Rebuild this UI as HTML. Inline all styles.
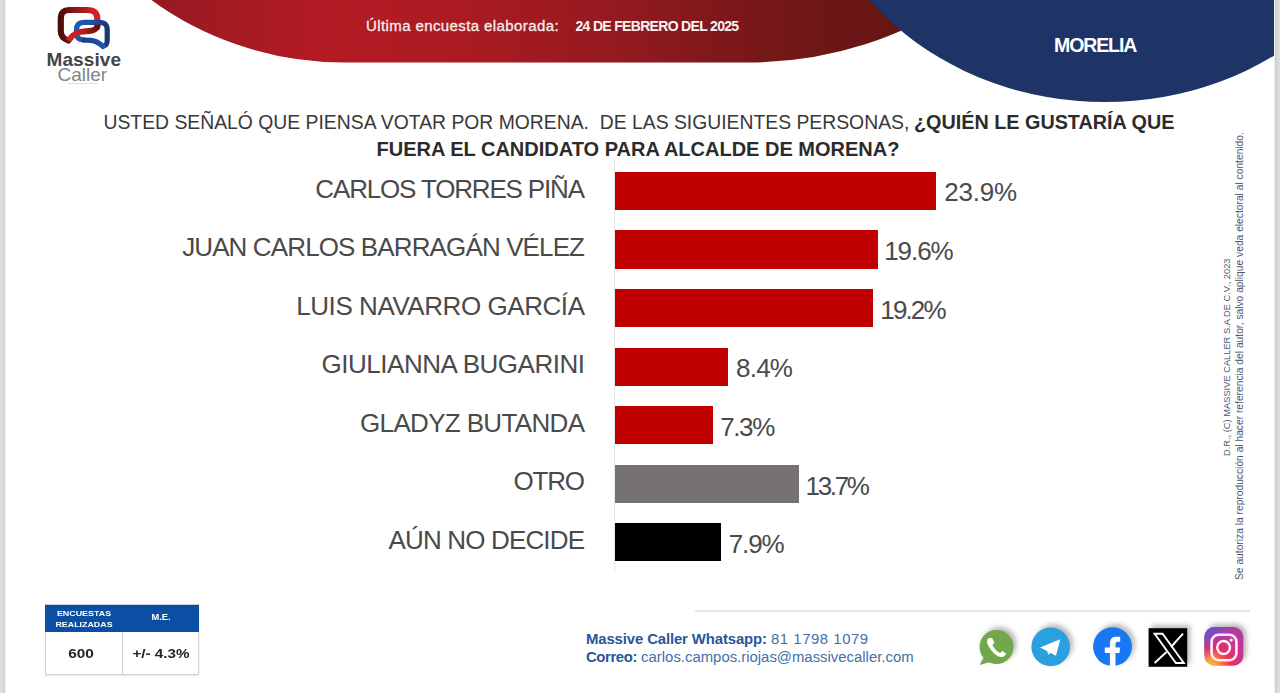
<!DOCTYPE html>
<html><head><meta charset="utf-8">
<style>
html,body{margin:0;padding:0;}
body{width:1280px;height:693px;overflow:hidden;background:#fff;position:relative;font-family:"Liberation Sans",sans-serif;}
.a{position:absolute;white-space:nowrap;}
.lab{position:absolute;right:695px;font-size:26px;color:#4a4a4a;line-height:30px;white-space:nowrap;}
.bar{position:absolute;left:615px;height:38.2px;background:#c00000;}
.pct{position:absolute;font-size:26px;color:#4a4a4a;line-height:30px;white-space:nowrap;}
.ic{position:absolute;filter:drop-shadow(3px -3px 2.5px rgba(0,0,0,0.28));}
</style></head>
<body>
<!-- side strips -->
<div class="a" style="left:0;top:0;width:7px;height:693px;background:linear-gradient(90deg,#dedede 0,#dadada 3px,#cfcfcf 4.5px,#f3f3f3 5.5px,#fff 7px);"></div>
<div class="a" style="left:1273px;top:0;width:7px;height:693px;background:linear-gradient(90deg,#fff 0,#f3f3f3 1.5px,#cdcdcd 2.5px,#dadada 4px,#dedede 7px);"></div>

<!-- header shapes -->
<svg class="a" style="left:0;top:0" width="1280" height="120" viewBox="0 0 1280 120">
 <defs>
  <linearGradient id="rg" x1="150" y1="0" x2="930" y2="0" gradientUnits="userSpaceOnUse">
   <stop offset="0" stop-color="#961a21"/>
   <stop offset="0.23" stop-color="#b41b24"/>
   <stop offset="0.38" stop-color="#ad1b22"/>
   <stop offset="0.58" stop-color="#961a20"/>
   <stop offset="0.81" stop-color="#731717"/>
   <stop offset="1" stop-color="#621515"/>
  </linearGradient>
  <clipPath id="cp"><rect x="0" y="0" width="1274" height="120"/></clipPath>
 </defs>
 <path fill="url(#rg)" d="M140.9 -8 A314.1 293.8 0 0 0 345 62.5 L748.2 62.5 A337.9 293.8 0 0 0 967.8 -8 Z"/>
 <g clip-path="url(#cp)"><ellipse cx="1105" cy="-161.8" rx="298.3" ry="263.9" fill="#1f3466"/></g>
</svg>

<!-- logo -->
<svg class="a" style="left:40px;top:0" width="90" height="95" viewBox="40 0 90 95">
 <defs>
  <linearGradient id="lr" x1="60" y1="0" x2="100" y2="0" gradientUnits="userSpaceOnUse">
   <stop offset="0" stop-color="#4a0d0d"/><stop offset="0.4" stop-color="#8c1619"/><stop offset="0.75" stop-color="#c81e26"/><stop offset="1" stop-color="#d62229"/>
  </linearGradient>
  <linearGradient id="lr2" x1="68" y1="0" x2="97" y2="0" gradientUnits="userSpaceOnUse">
   <stop offset="0" stop-color="#d82229"/><stop offset="0.45" stop-color="#c01c24"/><stop offset="1" stop-color="#6a1212"/>
  </linearGradient>
  <linearGradient id="lb" x1="75" y1="0" x2="110" y2="0" gradientUnits="userSpaceOnUse">
   <stop offset="0" stop-color="#1a5cb8"/><stop offset="0.55" stop-color="#1f4d99"/><stop offset="1" stop-color="#1b3270"/>
  </linearGradient>
  <linearGradient id="lb2" x1="78" y1="0" x2="106" y2="0" gradientUnits="userSpaceOnUse">
   <stop offset="0" stop-color="#1c3a7c"/><stop offset="0.6" stop-color="#1a4a98"/><stop offset="1" stop-color="#1a5cb8"/>
  </linearGradient>
 </defs>
 <path d="M68.5 40.5 C63 38.5 60.8 36 60.8 31 L60.8 19 C60.8 12.5 63.5 10 70 10 L87 10 C94 10 97.3 12.5 97.3 19 L97.3 27" fill="none" stroke="url(#lr)" stroke-width="6.2" stroke-linecap="round"/>
 <path d="M103 46 C107 45.5 107.2 43 107.2 40 L107.2 30 C107.2 25 105 22.3 99 22.3 L84 22.3 C79 22.3 76.5 25 76.5 30 L76.5 33 C76.5 37.5 79 40 84 40" fill="none" stroke="url(#lb)" stroke-width="5.2" stroke-linecap="round"/>
 <path d="M84 40 L91 40.3 C96 40.8 99.5 43 103 46.5" fill="none" stroke="url(#lb2)" stroke-width="5.2" stroke-linecap="round"/>
 <path d="M97.4 24.8 C97.4 29.5 94 31 86 31.2 C78 31.4 73 33.5 68.5 40.5" fill="none" stroke="url(#lr2)" stroke-width="6" stroke-linecap="butt"/>
</svg>
<div class="a" style="left:46.5px;top:48.5px;font-size:19px;font-weight:bold;color:#444;line-height:22px;letter-spacing:0.1px;">Massive</div>
<div class="a" style="left:57.5px;top:63.5px;font-size:19px;color:#858585;line-height:22px;">Caller</div>
<div class="a" style="left:68px;top:83px;width:30px;height:1px;background:#dcdcdc;"></div>

<!-- header text -->
<div class="a" style="left:366px;top:16.5px;font-size:15px;letter-spacing:0.4px;color:#f6eeee;-webkit-text-stroke:0.3px #f6eeee;line-height:18px;">Última encuesta elaborada:</div>
<div class="a" style="left:575.5px;top:16.5px;font-size:14px;letter-spacing:-0.68px;color:#fbf3f3;line-height:18px;font-weight:bold;">24 DE FEBRERO DEL 2025</div>
<div class="a" style="left:1054px;top:35px;font-size:19.5px;letter-spacing:-1.1px;color:#ffffff;line-height:20px;font-weight:bold;">MORELIA</div>

<!-- title -->
<div class="a" style="left:103.5px;top:110.3px;font-size:19.35px;color:#383838;line-height:24px;">USTED SEÑALÓ QUE PIENSA VOTAR POR MORENA.&nbsp; DE LAS SIGUIENTES PERSONAS,</div>
<div class="a" style="left:914px;top:110.3px;font-size:19.8px;color:#2b2b2b;line-height:24px;font-weight:bold;">¿QUIÉN LE GUSTARÍA QUE</div>
<div class="a" style="left:376.5px;top:136.8px;font-size:20px;color:#2b2b2b;line-height:24px;font-weight:bold;">FUERA EL CANDIDATO PARA ALCALDE DE MORENA?</div>

<!-- chart -->
<div class="a" style="left:614px;top:160px;width:1px;height:412px;background:#e6e6e6;"></div>

<div class="lab" style="top:173.6px;letter-spacing:-1.165px;margin-right:1.165px">CARLOS TORRES PIÑA</div>
<div class="lab" style="top:232.1px;letter-spacing:-0.876px;margin-right:0.876px">JUAN CARLOS BARRAGÁN VÉLEZ</div>
<div class="lab" style="top:290.7px;letter-spacing:-0.44px;margin-right:0.44px">LUIS NAVARRO GARCÍA</div>
<div class="lab" style="top:349.2px;letter-spacing:-0.48px;margin-right:0.48px">GIULIANNA BUGARINI</div>
<div class="lab" style="top:407.7px;letter-spacing:-0.66px;margin-right:0.66px">GLADYZ BUTANDA</div>
<div class="lab" style="top:466.3px;letter-spacing:-1.17px;margin-right:1.17px">OTRO</div>
<div class="lab" style="top:524.8px;letter-spacing:-0.84px;margin-right:0.84px">AÚN NO DECIDE</div>

<div class="bar" style="top:171.9px;width:321px"></div>
<div class="bar" style="top:230.4px;width:263px"></div>
<div class="bar" style="top:289.0px;width:258px"></div>
<div class="bar" style="top:347.5px;width:113px"></div>
<div class="bar" style="top:406.0px;width:98px"></div>
<div class="bar" style="top:464.6px;width:184px;background:#767171"></div>
<div class="bar" style="top:523.1px;width:106px;background:#000"></div>

<div class="pct" style="left:944.3px;top:176.7px;letter-spacing:-0.25px">23.9%</div>
<div class="pct" style="left:884.2px;top:235.7px;letter-spacing:-1.05px">19.6%</div>
<div class="pct" style="left:880.3px;top:294.9px;letter-spacing:-1.875px">19.2%</div>
<div class="pct" style="left:736.1px;top:353.1px;letter-spacing:-0.8px">8.4%</div>
<div class="pct" style="left:720.2px;top:411.6px;letter-spacing:-1.4px">7.3%</div>
<div class="pct" style="left:805.6px;top:470.9px;letter-spacing:-2.35px">13.7%</div>
<div class="pct" style="left:728.8px;top:528.8px;letter-spacing:-1.17px">7.9%</div>

<!-- vertical copyright -->
<div class="a" id="v1" style="left:1222px;top:456px;transform-origin:0 0;transform:rotate(-90deg);font-size:9.3px;line-height:11px;color:#4f586e;">D.R., (C) MASSIVE CALLER S.A DE C.V., 2023</div>
<div class="a" id="v2" style="left:1234px;top:580px;transform-origin:0 0;transform:rotate(-90deg);font-size:10.25px;line-height:11px;color:#4f586e;">Se autoriza la reproducción al hacer referencia del autor, salvo aplique veda electoral al contenido.</div>

<!-- table -->
<div class="a" style="left:45px;top:604px;width:154px;height:71px;border:1px solid #d0d0d0;box-sizing:border-box;box-shadow:0 1px 2px rgba(0,0,0,0.1);"></div>
<div class="a" style="left:45px;top:604.5px;width:154px;height:27.5px;background:#0a4fa3;"></div>
<div class="a" style="left:122px;top:632px;width:1px;height:43px;background:#d0d0d0;"></div>
<div class="a" style="left:43.7px;top:607.5px;width:80px;text-align:center;font-size:8px;line-height:11px;color:#fff;font-weight:bold;transform:scaleX(1.11);">ENCUESTAS<br>REALIZADAS</div>
<div class="a" style="left:120.7px;top:612px;width:80px;text-align:center;font-size:8.5px;line-height:11px;color:#fff;font-weight:bold;transform:scaleX(1.1);">M.E.</div>
<div class="a" style="left:41px;top:645.5px;width:80px;text-align:center;font-size:13.5px;line-height:16px;color:#23232b;font-weight:bold;transform:scaleX(1.14);">600</div>
<div class="a" style="left:120.6px;top:645.5px;width:80px;text-align:center;font-size:13.5px;line-height:16px;color:#23232b;font-weight:bold;transform:scaleX(1.13);">+/- 4.3%</div>

<!-- footer line & contact -->
<div class="a" style="left:695px;top:610px;width:555px;height:2px;background:#e4e4e4;"></div>
<div class="a" style="left:586px;top:629.5px;font-size:14.9px;line-height:18px;color:#4270aa;"><b style="color:#27569a;letter-spacing:-0.12px">Massive Caller Whatsapp:</b> <span style="letter-spacing:0.55px">81 1798 1079</span></div>
<div class="a" style="left:586px;top:648px;font-size:14.9px;line-height:18px;color:#4270aa;"><b style="color:#27569a;letter-spacing:-0.4px">Correo:</b> carlos.campos.riojas@massivecaller.com</div>

<!-- social icons -->
<svg class="ic" style="left:975px;top:625px" width="45" height="45" viewBox="975 625 45 45">
 <circle cx="996.5" cy="647" r="17" fill="#70a84b"/>
 <path d="M984 657 L979.5 665 L990 662 Z" fill="#70a84b"/>
 <path d="M989 638 C986.5 639.5 986.5 643 989 647 C992 652 996 656 1000.5 657 C1003.5 657.5 1005.5 656 1006 653.5 L1002.5 651 L1000 653 C997 651.5 994 648.5 992.5 645 L994.5 642.5 L992 638 Z" fill="#fff"/>
</svg>
<svg class="ic" style="left:1028px;top:624px" width="46" height="46" viewBox="1028 624 46 46">
 <circle cx="1050.7" cy="646.9" r="19.3" fill="#2aa0de"/>
 <path d="M1040 647.5 L1060.3 639.3 L1056 655.7 Z" fill="#fff"/>
 <path d="M1047 651 L1048.5 655 L1051 652.5" fill="#e6f3fb"/>
</svg>
<svg class="ic" style="left:1090px;top:624px" width="46" height="46" viewBox="1090 624 46 46">
 <circle cx="1112.5" cy="646.7" r="19.4" fill="#1877f2"/>
 <path d="M1109.9 666 L1109.9 653 L1104.8 653 L1104.8 647.5 L1109.9 647.5 L1109.9 643.5 C1109.9 638.5 1112.5 636.7 1116.5 636.7 C1118 636.7 1119.3 636.9 1120.2 637.1 L1120.2 641.8 L1117.8 641.8 C1116 641.8 1115.5 642.6 1115.5 644.3 L1115.5 647.5 L1120.2 647.5 L1119.5 653 L1115.5 653 L1115.5 666 Z" fill="#fff"/>
</svg>
<svg class="ic" style="left:1146px;top:625px" width="45" height="45" viewBox="1146 625 45 45">
 <rect x="1148.6" y="628.2" width="38.6" height="38.6" fill="#000"/>
 <path d="M1154.6 633.7 L1162.5 633.7 L1183.8 663 L1175.9 663 Z" fill="none" stroke="#fff" stroke-width="1.9" stroke-linejoin="miter"/>
 <path d="M1183 633.7 L1171 647 M1166.5 652 L1154.6 663" stroke="#fff" stroke-width="1.9"/>
</svg>
<svg class="ic" style="left:1201px;top:624px" width="46" height="46" viewBox="1201 624 46 46">
 <defs>
  <radialGradient id="ig" cx="1208" cy="670" r="52" gradientUnits="userSpaceOnUse">
   <stop offset="0" stop-color="#fdd35a"/>
   <stop offset="0.2" stop-color="#fb9b3a"/>
   <stop offset="0.45" stop-color="#ee2d5a"/>
   <stop offset="0.7" stop-color="#c9348e"/>
   <stop offset="1" stop-color="#b13aa8"/>
  </radialGradient>
  <linearGradient id="ig2" x1="1204" y1="627" x2="1222" y2="648" gradientUnits="userSpaceOnUse">
   <stop offset="0" stop-color="#4c5fd7"/>
   <stop offset="0.35" stop-color="#6a4fd0" stop-opacity="0.8"/>
   <stop offset="1" stop-color="#b13aa8" stop-opacity="0"/>
  </linearGradient>
 </defs>
 <rect x="1204.3" y="627.1" width="39" height="38.6" rx="10" fill="url(#ig)"/>
 <rect x="1204.3" y="627.1" width="39" height="38.6" rx="10" fill="url(#ig2)"/>
 <rect x="1211.6" y="634.8" width="24.8" height="25.4" rx="7" fill="none" stroke="#fdeefa" stroke-width="2.6"/>
 <circle cx="1223.6" cy="647.5" r="6.4" fill="none" stroke="#fdeefa" stroke-width="2.5"/>
 <circle cx="1231.2" cy="640.1" r="1.6" fill="#fdeefa"/>
</svg>
</body></html>
